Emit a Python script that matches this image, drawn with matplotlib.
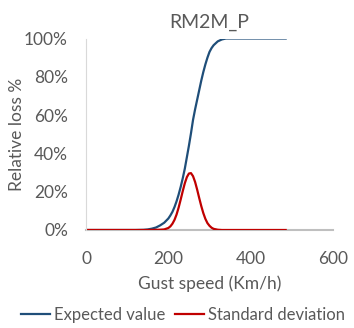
import matplotlib
matplotlib.use("Agg")
from matplotlib import pyplot as plt
from matplotlib.ticker import FuncFormatter

# gust speed (km/h)
speed = [0, 10, 20, 30, 40, 50, 60, 70, 80, 90, 100, 110, 120, 130, 140,
         150, 160, 170, 180, 190, 200, 205, 210, 215, 220, 225, 230, 235,
         240, 245, 250, 255, 260, 265, 270, 275, 280, 285, 290, 295, 300,
         305, 310, 320, 330, 340, 350, 360, 370, 380, 390, 400,
         410, 420, 430, 440, 450, 460, 470, 480, 485]
# expected relative loss (%)
expected = [0, 0, 0, 0, 0, 0, 0, 0, 0, 0, 0, 0, 0, 0.05, 0.1,
            0.3, 0.7, 1.3, 2.4, 3.8, 6.0, 7.6, 9.5, 12.0, 15.0, 18.5, 22.5, 27.0,
            32.0, 38.0, 44.0, 50.5, 57.5, 63.0, 68.0, 73.0, 78.0, 82.5, 86.5, 90.0, 93.0,
            95.0, 96.5, 98.5, 99.5, 100, 100, 100, 100, 100, 100, 100,
            100, 100, 100, 100, 100, 100, 100, 100, 100]
# standard deviation of relative loss (%)
std_dev = [0, 0, 0, 0, 0, 0, 0, 0, 0, 0, 0, 0, 0, 0, 0,
           0, 0.05, 0.1, 0.15, 0.3, 1.05, 1.9, 3.3, 5.3, 8.1, 11.7, 15.9, 20.3,
           24.4, 27.6, 29.5, 29.7, 28.1, 25.1, 21.1, 16.7, 12.5, 8.8, 5.8, 3.6, 2.2,
           1.2, 0.6, 0.15, 0, 0, 0, 0, 0, 0, 0, 0,
           0, 0, 0, 0, 0, 0, 0, 0, 0]

text_gray = "#595959"
plt.rcParams["font.family"] = ["Lato", "DejaVu Sans"]

fig = plt.figure(figsize=(3.54, 3.28), dpi=100)
ax = fig.add_axes([86 / 354, 1 - 230 / 328, 247 / 354, 191.5 / 328])

ax.plot(speed, expected, color="#1F4E79", lw=1.6, label="Expected value")
ax.plot(speed, std_dev, color="#C00000", lw=1.6, label="Standard deviation")

ax.set_xlim(0, 600)
ax.set_ylim(0, 100)
ax.set_xticks([0, 200, 400, 600])
ax.set_yticks([0, 20, 40, 60, 80, 100])
ax.yaxis.set_major_formatter(FuncFormatter(lambda v, p: "%d%%" % v))
ax.tick_params(length=0, labelsize=12.5, colors=text_gray)
ax.tick_params(axis="x", pad=15)
ax.tick_params(axis="y", pad=13)

for s in ["top", "right"]:
    ax.spines[s].set_visible(False)
ax.spines["left"].set_color("#d9d9d9")
ax.spines["left"].set_linewidth(0.8)
ax.spines["bottom"].set_color("#bfbfbf")
ax.spines["bottom"].set_linewidth(1.5)
ax.spines["bottom"].set_zorder(0)

ax.set_title("RM2M_P", fontsize=14, color=text_gray, pad=8)
ax.set_xlabel("Gust speed (Km/h)", fontsize=12.5, color=text_gray, labelpad=6)
ax.set_ylabel("Relative loss %", fontsize=12.5, color=text_gray)
ax.yaxis.set_label_coords(-0.247, 0.5)

fig.legend(loc="center", bbox_to_anchor=(183 / 354, 13 / 328), ncol=2,
           frameon=False, fontsize=12, handlelength=1.75, handletextpad=0.2,
           columnspacing=0.6, labelcolor=text_gray, borderaxespad=0)

fig.savefig("out.png", dpi=100)
